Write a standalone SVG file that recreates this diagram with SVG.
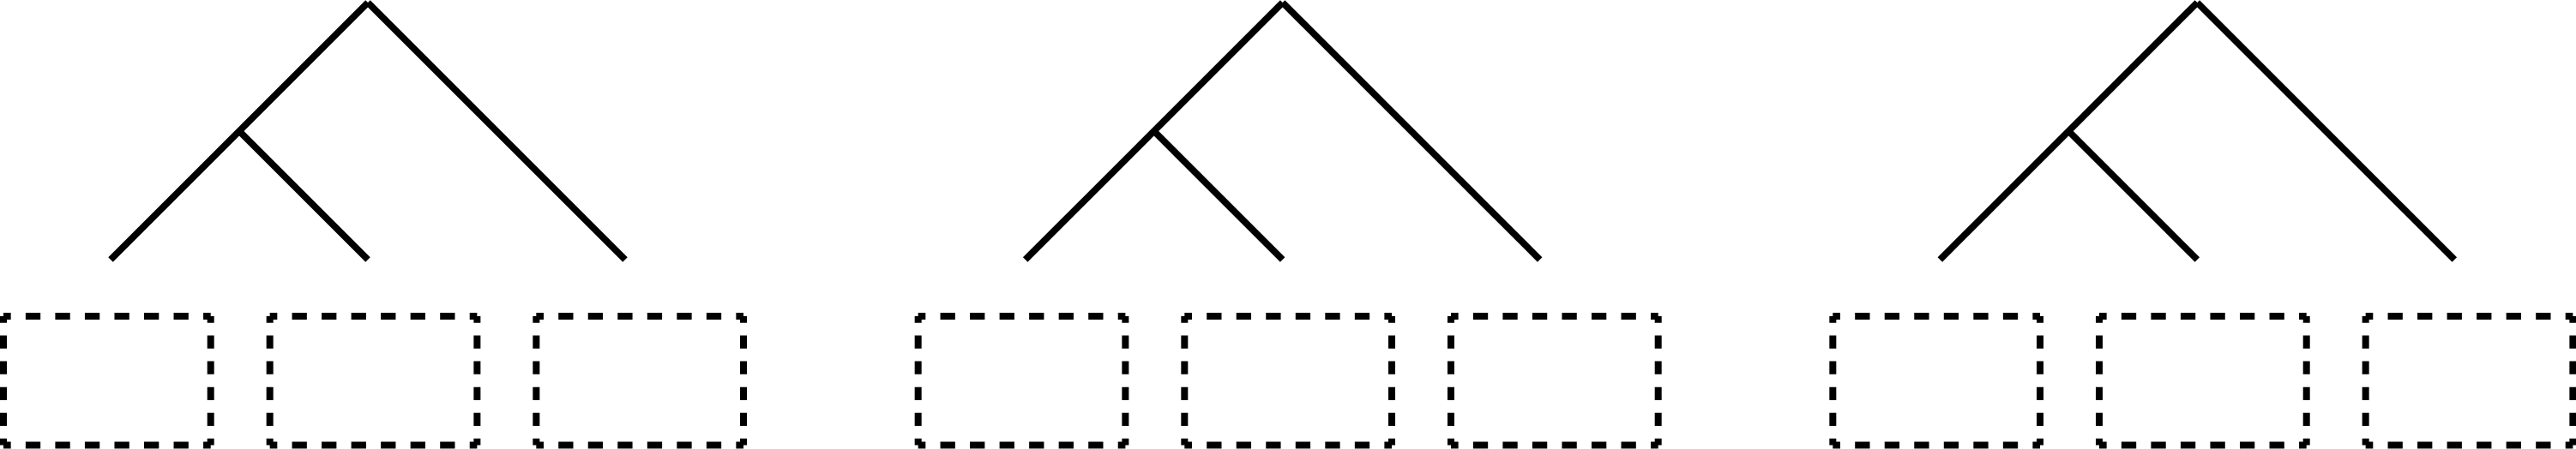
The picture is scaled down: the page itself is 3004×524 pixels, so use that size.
<svg xmlns="http://www.w3.org/2000/svg" width="3004" height="524" viewBox="0 0 3004 524">
<style>
.bg{fill:#ffffff}
.tree line{stroke:#000;stroke-width:7.8;stroke-linecap:butt;fill:none}
.box line{stroke:#000;stroke-width:8;stroke-linecap:butt;fill:none}
.box .h{stroke-dasharray:17.3 17.23;stroke-dashoffset:8.65}
.box .v{stroke-dasharray:15.3 14.8;stroke-dashoffset:7.65}
</style>
<rect class="bg" x="0" y="0" width="3004" height="524"/>
<g id="connectors">
<g class="tree" id="tree-1">
<line x1="129" y1="303" x2="429" y2="3"/>
<line x1="429" y1="3" x2="729" y2="303"/>
<line x1="279" y1="153" x2="429" y2="303"/>
</g>
<g class="tree" id="tree-2" transform="translate(1066.67,0)">
<line x1="129" y1="303" x2="429" y2="3"/>
<line x1="429" y1="3" x2="729" y2="303"/>
<line x1="279" y1="153" x2="429" y2="303"/>
</g>
<g class="tree" id="tree-3" transform="translate(2133.33,0)">
<line x1="129" y1="303" x2="429" y2="3"/>
<line x1="429" y1="3" x2="729" y2="303"/>
<line x1="279" y1="153" x2="429" y2="303"/>
</g>
</g>
<g id="box-1-1" class="box" transform="translate(4,0)">
<line class="h" x1="0" y1="369" x2="241.7" y2="369"/><line class="h" x1="0" y1="519.5" x2="241.7" y2="519.5"/>
<line class="v" x1="0" y1="369" x2="0" y2="519.5"/><line class="v" x1="241.7" y1="369" x2="241.7" y2="519.5"/>
</g>
<g id="box-1-2" class="box" transform="translate(314.67,0)">
<line class="h" x1="0" y1="369" x2="241.7" y2="369"/><line class="h" x1="0" y1="519.5" x2="241.7" y2="519.5"/>
<line class="v" x1="0" y1="369" x2="0" y2="519.5"/><line class="v" x1="241.7" y1="369" x2="241.7" y2="519.5"/>
</g>
<g id="box-1-3" class="box" transform="translate(625.33,0)">
<line class="h" x1="0" y1="369" x2="241.7" y2="369"/><line class="h" x1="0" y1="519.5" x2="241.7" y2="519.5"/>
<line class="v" x1="0" y1="369" x2="0" y2="519.5"/><line class="v" x1="241.7" y1="369" x2="241.7" y2="519.5"/>
</g>
<g id="box-2-1" class="box" transform="translate(1070.67,0)">
<line class="h" x1="0" y1="369" x2="241.7" y2="369"/><line class="h" x1="0" y1="519.5" x2="241.7" y2="519.5"/>
<line class="v" x1="0" y1="369" x2="0" y2="519.5"/><line class="v" x1="241.7" y1="369" x2="241.7" y2="519.5"/>
</g>
<g id="box-2-2" class="box" transform="translate(1381.33,0)">
<line class="h" x1="0" y1="369" x2="241.7" y2="369"/><line class="h" x1="0" y1="519.5" x2="241.7" y2="519.5"/>
<line class="v" x1="0" y1="369" x2="0" y2="519.5"/><line class="v" x1="241.7" y1="369" x2="241.7" y2="519.5"/>
</g>
<g id="box-2-3" class="box" transform="translate(1692,0)">
<line class="h" x1="0" y1="369" x2="241.7" y2="369"/><line class="h" x1="0" y1="519.5" x2="241.7" y2="519.5"/>
<line class="v" x1="0" y1="369" x2="0" y2="519.5"/><line class="v" x1="241.7" y1="369" x2="241.7" y2="519.5"/>
</g>
<g id="box-3-1" class="box" transform="translate(2137.33,0)">
<line class="h" x1="0" y1="369" x2="241.7" y2="369"/><line class="h" x1="0" y1="519.5" x2="241.7" y2="519.5"/>
<line class="v" x1="0" y1="369" x2="0" y2="519.5"/><line class="v" x1="241.7" y1="369" x2="241.7" y2="519.5"/>
</g>
<g id="box-3-2" class="box" transform="translate(2448,0)">
<line class="h" x1="0" y1="369" x2="241.7" y2="369"/><line class="h" x1="0" y1="519.5" x2="241.7" y2="519.5"/>
<line class="v" x1="0" y1="369" x2="0" y2="519.5"/><line class="v" x1="241.7" y1="369" x2="241.7" y2="519.5"/>
</g>
<g id="box-3-3" class="box" transform="translate(2758.67,0)">
<line class="h" x1="0" y1="369" x2="241.7" y2="369"/><line class="h" x1="0" y1="519.5" x2="241.7" y2="519.5"/>
<line class="v" x1="0" y1="369" x2="0" y2="519.5"/><line class="v" x1="241.7" y1="369" x2="241.7" y2="519.5"/>
</g>
</svg>
